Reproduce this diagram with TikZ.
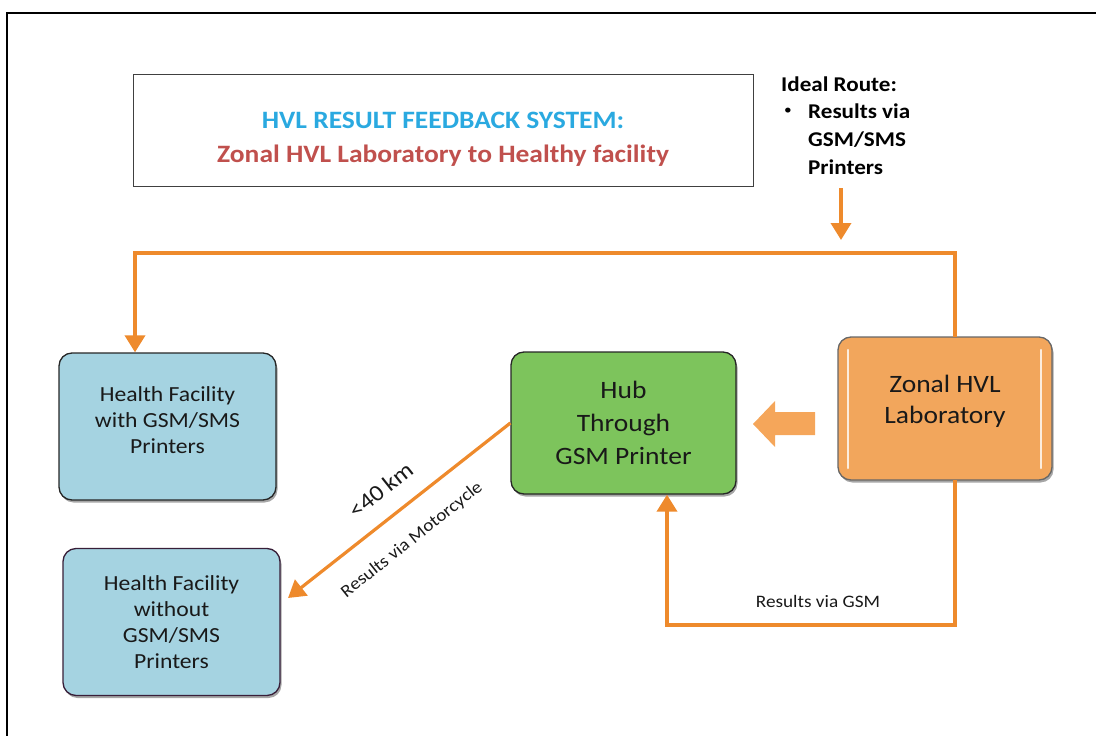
\documentclass[tikz,border=0pt]{standalone}
\usepackage{fontspec}
\setmainfont{Carlito}[FakeStretch=1.1]
\usetikzlibrary{arrows.meta,shadows,calc}

\definecolor{titleblue}{HTML}{2AA9E0}
\definecolor{titlered}{HTML}{C0504D}
\definecolor{hubgreen}{HTML}{7DC45C}
\definecolor{hfblue}{HTML}{A5D3E1}
\definecolor{labfill}{HTML}{F2A65C}
\definecolor{blockorange}{HTML}{F5A65A}
\definecolor{lineorange}{HTML}{EE8A2C}
\definecolor{boxedge}{HTML}{262626}

\tikzset{
  box/.style={draw=boxedge, line width=1.3pt, rounded corners=13pt,
    align=center, text=black!90,
    drop shadow={shadow xshift=1.5pt, shadow yshift=-2.5pt, fill=black, opacity=0.35}},
  hfbox/.style={box, fill=hfblue, minimum width=217pt, minimum height=147pt},
  hftext/.style={align=center, text=black!90, font=\fontsize{21.5}{26}\selectfont},
  conn/.style={draw=lineorange, line width=3.6pt},
  tip/.style={-{Triangle[length=17pt,width=20pt]}},
  smalllabel/.style={font=\fontsize{17.5}{20}\selectfont, text=black!90},
  notefont/.style={font=\bfseries\fontsize{21}{28}\selectfont},
}

\begin{document}
\begin{tikzpicture}[x=1pt,y=-1pt]
\useasboundingbox (0,0) rectangle (1096,736);

% page frame (left and top edges)
\draw[line width=2pt, black] (7,745) -- (7,13) -- (1105,13);

% title panel
\node[draw=black!75, line width=1pt, minimum width=620pt, minimum height=112pt] (title) at (443,130) {};
\node[align=center, font=\bfseries\fontsize{25}{34}\selectfont] (titletext) at (443,139)
  {\textcolor{titleblue}{HVL RESULT FEEDBACK SYSTEM:}\\
   \textcolor{titlered}{Zonal HVL Laboratory to Healthy facility}};

% ideal route note
\node[anchor=west, notefont, inner sep=0pt] (ideal) at (781,84) {Ideal Route:};
\node[font=\fontsize{14}{14}\selectfont, inner sep=0pt] (bullet) at (788,111) {\textbullet};
\node[anchor=north west, align=left, inner sep=0pt, notefont] (route) at (808,104)
  {Results via\\GSM/SMS\\Printers};

% facility boxes
\node[hfbox] (hf1) at (167.5,426.5) {};
\node[hftext] (hf1text) at (167.5,420) {Health Facility\\with GSM/SMS\\Printers};
\node[hfbox, draw=boxedge!80!violet] (hf2) at (171.5,622) {};
\node[hftext] (hf2text) at (171.5,622) {Health Facility\\without\\GSM/SMS\\Printers};

% hub and laboratory
\node[box, fill=hubgreen, minimum width=225pt, minimum height=142pt,
  font=\fontsize{25}{33}\selectfont] (hub) at (623.5,423) {Hub\\Through\\GSM Printer};
\node[box, fill=labfill, draw=boxedge!70, minimum width=214pt, minimum height=143pt] (lab) at (945,408.5) {};
\node[align=center, text=black!90, font=\fontsize{25}{31}\selectfont] (labtext) at (945,401) {Zonal HVL\\Laboratory};
% glossy highlights on the laboratory box
\draw[white, line width=2.5pt, opacity=0.8, line cap=round] (848,350) -- (848,468);
\draw[white, line width=2.5pt, opacity=0.8, line cap=round] (1041,350) -- (1041,468);

% block arrow from laboratory to hub
\fill[blockorange] (815,412) -- (775,412) -- (775,401) -- (753,424) -- (775,447) -- (775,435) -- (815,435) -- cycle;

% connector anchors
\coordinate (routeA) at (841,188);
\coordinate (routeB) at (841,240);
\coordinate (labtop) at (955,337);
\coordinate (topleft) at (135,253);
\coordinate (labbot) at (955,480);
\coordinate (botleft) at (667,625);
\coordinate (motorend) at (288,598);

% ideal route pointer
\draw[conn, tip] (routeA) -- (routeB);

% direct route to facility with printers
\draw[conn, tip] (labtop) |- (topleft) -- (topleft |- hf1.north);

% results via GSM to hub
\draw[conn, tip] (labbot) |- (botleft) -- (botleft |- hub.south);
\node[smalllabel] (gsmlabel) at (818,601) {Results via GSM};

% motorcycle route from hub
\draw[conn, line width=3.2pt, tip] (hub.west) -- (motorend);
\node[rotate=38.5, font=\fontsize{23}{26}\selectfont, text=black!90] (kmlabel) at (381,490) {<40 km};
\node[smalllabel, rotate=38.5] (motorlabel) at (412,540) {Results via Motorcycle};

\end{tikzpicture}
\end{document}
